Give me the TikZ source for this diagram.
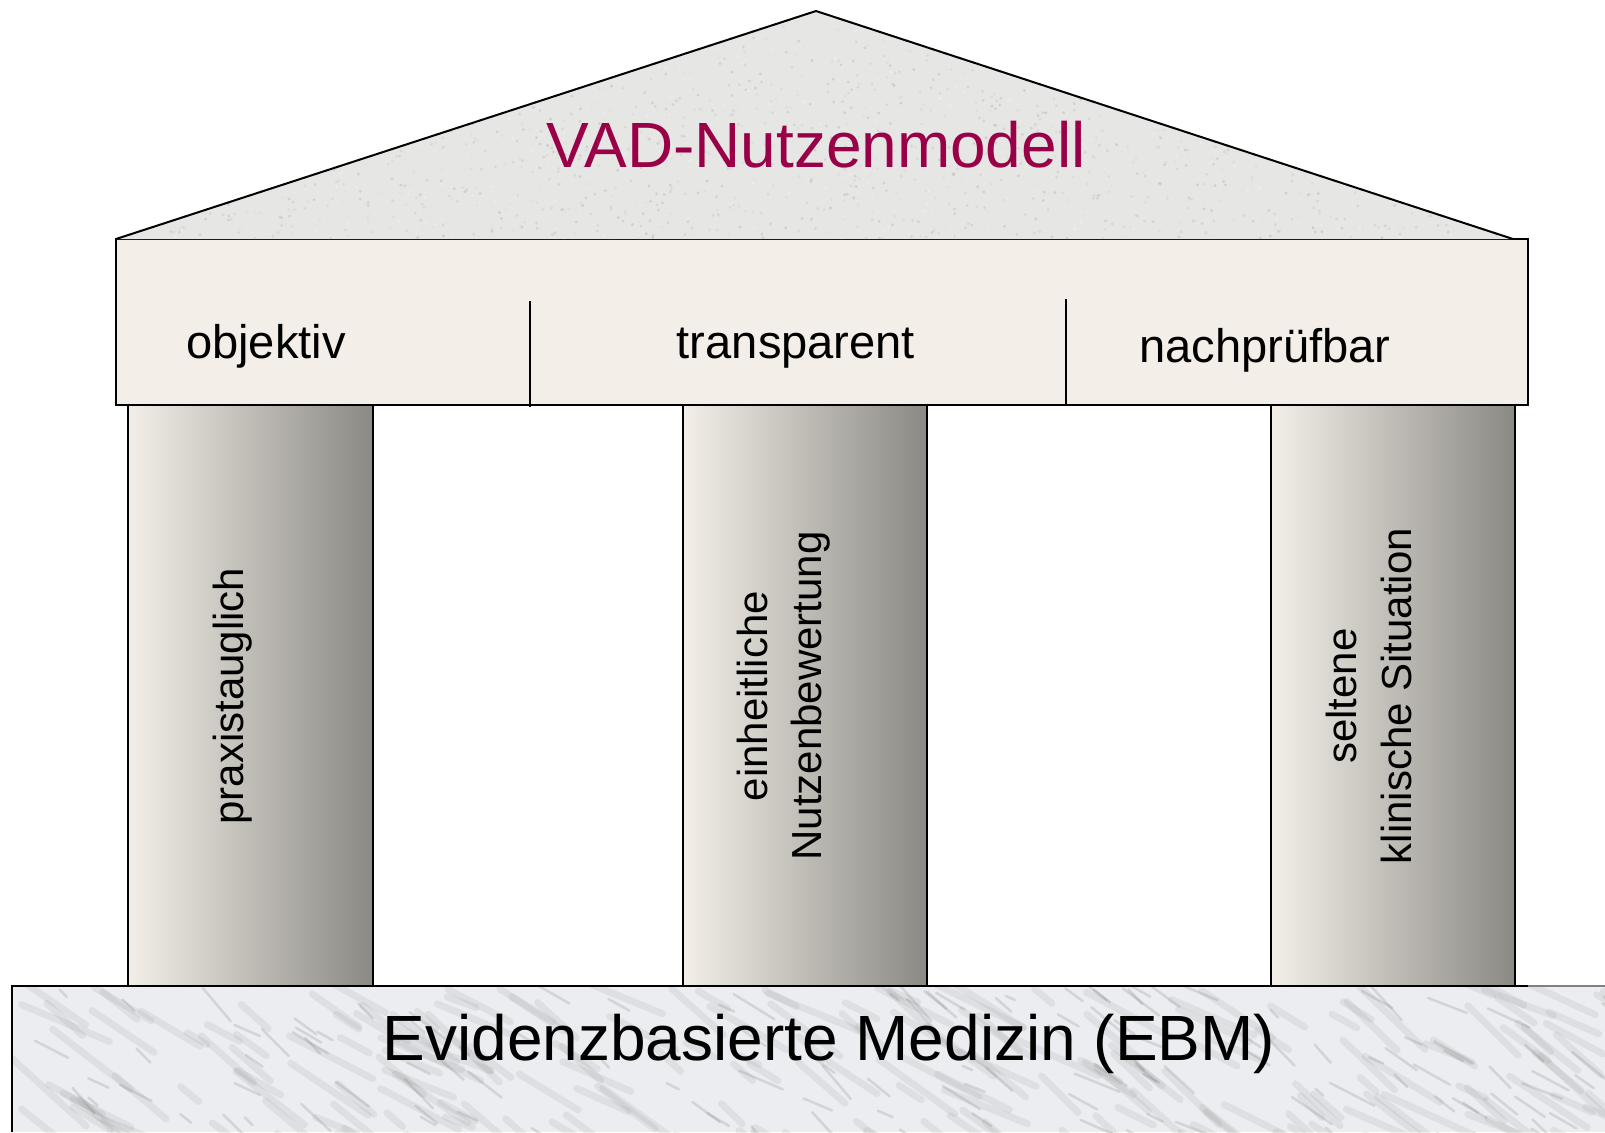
\documentclass[tikz,border=0pt]{standalone}
\usepackage{fontspec}
\setmainfont{Liberation Sans}

\definecolor{roofgray}{HTML}{E6E6E4}
\definecolor{friezecream}{HTML}{F3EFE8}
\definecolor{pillarmid}{HTML}{CCC8C1}
\definecolor{pillardark}{HTML}{8B8984}
\definecolor{marble}{HTML}{ECEDF0}
\definecolor{vadred}{RGB}{153,0,71}

\begin{document}
\begin{tikzpicture}[x=0.1mm,y=-0.1mm,
		every node/.style={inner sep=0pt},
		edge line/.style={draw=black,line width=0.2mm},
		pillar/.style={edge line,left color=friezecream,middle color=pillarmid,right color=pillardark},
		bigtext/.style={font=\fontsize{18.2pt}{21pt}\selectfont,anchor=base},
		headtext/.style={font=\fontsize{13.4pt}{16pt}\selectfont,anchor=base},
		pillartext/.style={font=\fontsize{11.95pt}{15.4pt}\selectfont,rotate=90,align=center}]
	\useasboundingbox (0,0) rectangle (1605,1132);

	% marble base
	\fill[marble] (12,986) rectangle (1605,1132);
	\begin{scope}
		\clip (12,986) rectangle (1605,1132);
		\pgfmathsetseed{17}
		\foreach \i in {1,...,220}{
			\pgfmathsetmacro{\mx}{12+1593*rnd}
			\pgfmathsetmacro{\my}{980+170*rnd}
			\pgfmathsetmacro{\ml}{20+80*rnd}
			\pgfmathsetmacro{\ma}{20+25*rnd}
			\draw[gray,opacity=0.12,line width=0.7mm,line cap=round] (\mx,\my) -- ++(\ma:\ml);
		}
		\foreach \i in {1,...,160}{
			\pgfmathsetmacro{\mx}{12+1593*rnd}
			\pgfmathsetmacro{\my}{980+170*rnd}
			\pgfmathsetmacro{\ml}{10+40*rnd}
			\pgfmathsetmacro{\ma}{20+30*rnd}
			\draw[gray!80!black,opacity=0.18,line width=0.25mm,line cap=round] (\mx,\my) -- ++(\ma:\ml);
		}
	\end{scope}
	\draw[edge line] (12,1132) -- (12,986) -- (1528,986);
	\draw[gray,line width=0.2mm] (1528,986) -- (1605,986);

	% three pillars
	\draw[pillar] (128,405) rectangle (373,986);
	\draw[pillar] (683,405) rectangle (927,986);
	\draw[pillar] (1271,405) rectangle (1515,986);

	% frieze
	\draw[edge line,fill=friezecream] (116,239) rectangle (1528,405);
	\draw[line width=0.15mm] (530,301) -- (530,407);
	\draw[line width=0.15mm] (1066,299) -- (1066,405);

	% roof, grainy stone
	\fill[roofgray] (116,239) -- (816,11) -- (1513,239) -- cycle;
	\begin{scope}
		\clip (116,239) -- (816,11) -- (1513,239) -- cycle;
		\foreach \i in {1,...,2600}{
			\pgfmathsetmacro{\gx}{116+1397*rnd}
			\pgfmathsetmacro{\gy}{11+228*rnd}
			\pgfmathsetmacro{\gs}{40*rnd}
			\fill[black!\gs!white,opacity=0.3] (\gx,\gy) circle (1.6);
		}
	\end{scope}
	\draw[edge line] (116,239) -- (816,11) -- (1513,239);

	% labels
	\node[bigtext,text=vadred] (title) at (816,167) {VAD-Nutzenmodell};
	\node[headtext] (obj) at (266,358) {objektiv};
	\node[headtext] (trans) at (796,358) {transparent};
	\node[headtext] (nach) at (1265,362) {nachprüfbar};
	\node[pillartext,anchor=base] (praxis) at (243,696) {praxistauglich};
	\node[pillartext] (einheit) at (784,696) {einheitliche\\Nutzenbewertung};
	\node[pillartext] (selten) at (1369,696) {seltene\\klinische Situation};
	\node[bigtext] (ebm) at (829,1060) {Evidenzbasierte Medizin (EBM)};
\end{tikzpicture}
\end{document}
